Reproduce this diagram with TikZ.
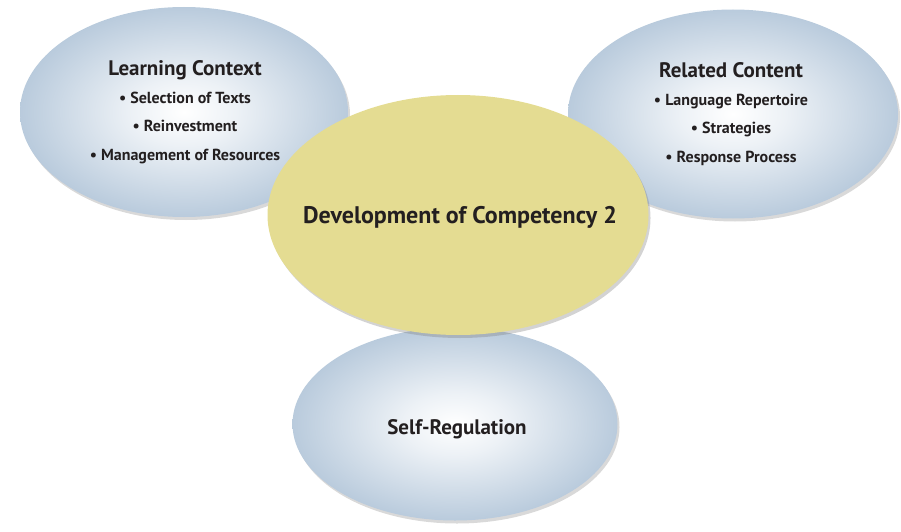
\documentclass[tikz,border=0pt]{standalone}
\usepackage{fontspec}
\setmainfont{PT Sans}
\usetikzlibrary{shapes.geometric,shadows,positioning}
\definecolor{bubble}{HTML}{98B2CC}
\definecolor{corefill}{HTML}{E4DC92}
\definecolor{ink}{HTML}{231F20}
\pgfdeclareradialshading{bubbleshade}{\pgfpoint{0bp}{0bp}}{color(0bp)=(white); color(8bp)=(white!82!bubble); color(36bp)=(bubble); color(50bp)=(bubble)}
\tikzset{
  blob/.style={ellipse, inner sep=0pt, shading=bubbleshade,
    drop shadow={opacity=0.3, shadow xshift=2pt, shadow yshift=-3pt}},
  corebox/.style={ellipse, inner sep=0pt, fill=corefill,
    drop shadow={opacity=0.35, shadow xshift=2pt, shadow yshift=-3pt}},
  head/.style={anchor=base, text=ink, font=\bfseries\fontsize{21}{25}\selectfont},
  items/.style={anchor=base, align=center, text=ink, font=\bfseries\fontsize{16}{28.3}\selectfont}
}

\begin{document}
\begin{tikzpicture}[x=1pt,y=-1pt]
    \useasboundingbox (0,0) rectangle (901,532);
    % Draw the three blue ellipses
    \node[blob, minimum width=328pt, minimum height=210pt] (context) at (184,112) {};
    \node[blob, minimum width=330pt, minimum height=209pt] (content) at (733,114) {};
    \node[blob, minimum width=325pt, minimum height=193pt] (regulation) at (455,424) {};

    % Draw the central ellipse on top
    \node[corebox, minimum width=381pt, minimum height=240pt] (core) at (458,215) {};

    % Add the labels
    \node[head] (contexthead) at (185,76) {Learning Context};
    \node[items] (contextlist) at (185,160) {• Selection of Texts\\• Reinvestment\\• Management of Resources};
    \node[head] (contenthead) at (731,78) {Related Content};
    \node[items] (contentlist) at (731,162) {• Language Repertoire\\• Strategies\\• Response Process};
    \node[anchor=base, text=ink, font=\bfseries\fontsize{24}{28}\selectfont] (coretitle) at (460,223) {Development of Competency 2};
    \node[head] (regulationhead) at (457,434) {Self-Regulation};
\end{tikzpicture}
\end{document}
